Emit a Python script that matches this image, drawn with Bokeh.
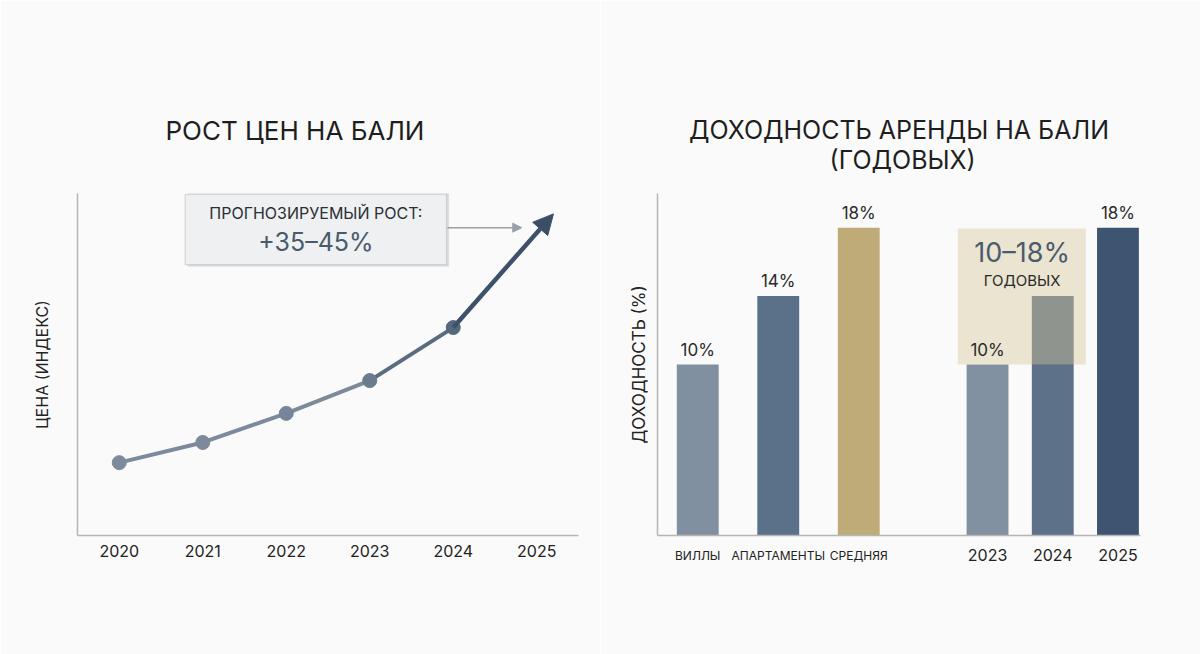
from bokeh.core.properties import value
from bokeh.embed import file_html
from bokeh.layouts import row
from bokeh.models import (Arrow, BoxAnnotation, ColumnDataSource, FixedTicker, Label,
                          LinearAxis, NormalHead, Range1d, Title)
from bokeh.plotting import figure
from bokeh.resources import INLINE

FONT = "Inter"
BG = "#fafafa"
AXIS_COLOR = "#b5b5b5"
NBSP = "\u00a0"

# Left chart data: price index by year (2025 is the forecast point)
years = [2020, 2021, 2022, 2023, 2024, 2025]
price_index = [21.3, 27.2, 35.7, 45.3, 60.8, 88.5]
point_colors = ["#7c8a9b", "#7c8a9b", "#76869a", "#6b7b8e", "#56687d"]

# Right chart data: rental yield
categories = ["ВИЛЛЫ", "АПАРТАМЕНТЫ", "СРЕДНЯЯ", "2023", "2024", "2025"]
yields = [10, 14, 18, 10, 14, 18]
value_labels = ["10%", "14%", "18%", "10%", "", "18%"]
bar_colors = ["#8090a1", "#5b7189", "#bfab78", "#8191a1", "#5d7189", "#3e5571"]
bar_pos = [0, 1, 2, 3.6, 4.41, 5.22]


def style_axis(ax):
    ax.axis_line_color = AXIS_COLOR
    ax.axis_line_width = 1.5
    ax.major_tick_line_color = None
    ax.minor_tick_line_color = None
    ax.major_tick_out = 0
    ax.major_tick_in = 0
    ax.major_label_text_font = FONT
    ax.major_label_text_color = "#222222"
    ax.axis_label_text_font = FONT
    ax.axis_label_text_font_style = "normal"
    ax.axis_label_text_color = "#222222"


def style_common(p):
    p.background_fill_color = BG
    p.border_fill_color = BG
    p.outline_line_color = None
    p.xgrid.visible = False
    p.ygrid.visible = False
    style_axis(p.xaxis[0])
    style_axis(p.yaxis[0])
    p.yaxis.ticker = FixedTicker(ticks=[])


def title(text, size="25px", align="center", offset=0):
    return Title(text=text, align=align, offset=offset, text_font=FONT, text_font_size=size,
                 text_font_style="normal", text_color="#1e1e1e")


# 1. Price growth chart
p1 = figure(width=600, height=654, output_backend="svg", toolbar_location=None,
            x_range=Range1d(2019.5, 2025.5), y_range=Range1d(0, 100),
            min_border_left=77, min_border_right=22, min_border_top=193, min_border_bottom=119)
style_common(p1)
p1.xaxis.ticker = FixedTicker(ticks=years)
p1.xaxis.major_label_text_font_size = "16px"
p1.xaxis.major_label_standoff = 9
p1.yaxis.axis_label = "ЦЕНА (ИНДЕКС)"
p1.yaxis.axis_label_text_font_size = "16px"
p1.yaxis.axis_label_standoff = 26

p1.add_layout(title(" ", "26px"), "above")
p1.add_layout(title("РОСТ ЦЕН НА БАЛИ", "26px", align="left", offset=88), "above")

p1.line(years[:4], price_index[:4], line_color="#7c8a9b", line_width=4)
p1.line(years[3:5], price_index[3:5], line_color="#5a6c80", line_width=4)

# forecast arrow, head drawn a little past the 2025 point
ext = 1.2
x_tip = years[4] + ext * (years[5] - years[4])
y_tip = price_index[4] + ext * (price_index[5] - price_index[4])
p1.add_layout(Arrow(end=NormalHead(size=20, fill_color="#3a4e65", line_color="#3a4e65"),
                    x_start=years[4], y_start=price_index[4], x_end=x_tip, y_end=y_tip,
                    line_color="#3d5169", line_width=4.5))
p1.scatter(years[:5], price_index[:5], size=14, color=point_colors)

p1.add_layout(BoxAnnotation(left=2020.82, right=2023.95, bottom=78.6, top=101.1,
                            fill_color="#dcdfe2", fill_alpha=1, line_color=None))
p1.add_layout(BoxAnnotation(left=2020.79, right=2023.92, bottom=79.2, top=99.8,
                            fill_color="#eef0f2", fill_alpha=1, line_color="#8f959c", line_width=1.3))
p1.add_layout(Label(x=2022.355, y=94.2, text="ПРОГНОЗИРУЕМЫЙ РОСТ:", text_align="center",
                    text_baseline="middle", text_font=FONT, text_font_size="16px", text_color="#2b2f33"))
p1.add_layout(Label(x=2022.355, y=85.9, text="+35–45%", text_align="center",
                    text_baseline="middle", text_font=FONT, text_font_size="25px", text_color="#4a5a6c"))
p1.add_layout(Arrow(end=NormalHead(size=9, fill_color="#9aa0a6", line_color="#9aa0a6"),
                    x_start=2023.93, y_start=90, x_end=2024.82, y_end=90,
                    line_color="#9aa0a6", line_width=1.5))

# 2. Rental yield chart
p2 = figure(width=600, height=654, output_backend="svg", toolbar_location=None,
            x_range=Range1d(-0.5, 5.5), y_range=Range1d(0, 20),
            min_border_left=57, min_border_right=60, min_border_top=193, min_border_bottom=119)
style_common(p2)
# property types: small labels on the main axis
p2.xaxis.ticker = FixedTicker(ticks=bar_pos[:3])
p2.xaxis.major_label_overrides = {pos: cat for pos, cat in zip(bar_pos[:3], categories[:3])}
p2.xaxis.major_label_text_font_size = "12px"
p2.xaxis.major_label_standoff = 12
# years: second axis pulled up to the same line
year_axis = LinearAxis(ticker=FixedTicker(ticks=bar_pos[3:]),
                       major_label_overrides={pos: cat for pos, cat in zip(bar_pos[3:], categories[3:])})
style_axis(year_axis)
year_axis.axis_line_color = None
year_axis.major_label_text_font_size = "16px"
year_axis.major_label_standoff = -17
p2.add_layout(year_axis, "below")

p2.yaxis.axis_label = "ДОХОДНОСТЬ (%)"
p2.yaxis.axis_label_text_font_size = "17px"
p2.yaxis.axis_label_standoff = 9

p2.add_layout(title(" ", "2px"), "above")
p2.add_layout(title("ДОХОДНОСТЬ АРЕНДЫ НА БАЛИ\n" + NBSP * 20 + "(ГОДОВЫХ)"), "above")

src = ColumnDataSource(dict(x=bar_pos, top=yields, color=bar_colors, label=value_labels))
p2.vbar(x="x", top="top", width=0.52, fill_color="color", line_color=None, source=src)

p2.add_layout(BoxAnnotation(left=3.23, right=4.82, bottom=10, top=17.95,
                            fill_color="#d3c697", fill_alpha=0.42, line_color=None))
p2.add_layout(Label(x=4.03, y=16.55, text="10–18%", text_align="center", text_baseline="middle",
                    text_font=FONT, text_font_size="27px", text_color="#4b5b6e"))
p2.add_layout(Label(x=4.03, y=14.9, text="ГОДОВЫХ", text_align="center", text_baseline="middle",
                    text_font=FONT, text_font_size="15px", text_color="#2a2a2a"))

labels = p2.text(x="x", y="top", text="label", source=src, text_align="center", text_baseline="middle",
                 y_offset=-15, text_font=value(FONT), text_font_size="17px", text_color="#2a2a2a")
labels.level = "overlay"

open("out.html", "w").write(file_html(row(p1, p2), INLINE))
